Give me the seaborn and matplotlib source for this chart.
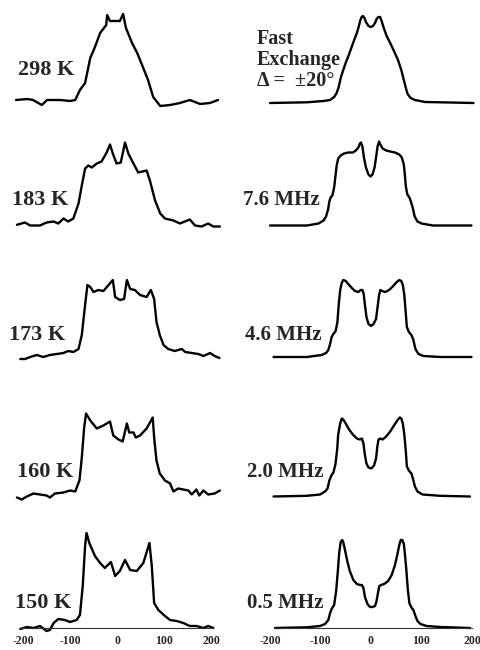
import matplotlib
matplotlib.use("Agg")
import matplotlib.pyplot as plt
import seaborn as sns

sns.set_style("white")
plt.rcParams['font.family'] = ['Liberation Serif', 'DejaVu Serif']

# ---- experimental spectra (left column), x in kHz, y = intensity ----
x_298 = [-215, -191, -179, -160, -149, -121, -100, -89, -79, -68, -57, -47, -36, -23, -21, -15, 6, 13, 19, 32,
         43, 55, 66, 77, 92, 113, 134, 155, 177, 198, 215]
y_298 = [3, 4, 3, -2, 3, 3, 2, 3, 13, 20, 45, 56, 70, 78, 88, 82, 82, 89, 75, 60,
         50, 36, 23, 6, -3, -2, 0, 3, -1, 0, 3]

x_183 = [-213, -196, -185, -164, -150, -135, -125, -114, -104, -93, -82, -75, -68, -61, -54, -43, -33, -22, -15, -9,
         -1, 8, 17, 24, 35, 45, 63, 70, 81, 92, 102, 120, 134, 155, 166, 180, 194, 205, 219]
y_183 = [0.7, 3, 0, 0, 3, 4, 2, 7, 4, 7, 22, 40, 57, 60, 58, 62, 64, 73, 81, 72,
         62, 63, 83, 72, 62, 53, 55, 45, 25, 12, 7, 5, 2, 6, 0, -1, 2, -1, -1]

x_173 = [-206, -196, -185, -171, -157, -143, -128, -114, -104, -93, -82, -75, -68, -63, -57, -50, -40, -29, -18, -9,
         -4, 6, 15, 21, 28, 38, 49, 63, 72, 79, 84, 91, 99, 109, 123, 138, 145, 159, 173, 184, 198, 208, 218]
y_173 = [-2, -2, 0, 2, 0, 2, 3, 4, 6, 5, 8, 22, 52, 72, 70, 65, 67, 66, 72, 77,
         60, 57, 58, 77, 68, 67, 62, 60, 67, 58, 35, 22, 12, 8, 6, 8, 5, 4, 3, 1, 4, 1, -1]

x_160 = [-213, -203, -192, -178, -164, -150, -143, -132, -114, -100, -89, -80, -75, -70, -66, -57, -43, -29, -15, -8,
         3, 12, 21, 26, 35, 40, 49, 63, 76, 79, 84, 91, 102, 113, 120, 130, 141, 152, 159, 169, 175, 184, 194, 208, 219]
y_160 = [-1, -3, 0, 3, 2, 1, -1, 3, 4, 6, 5, 16, 39, 69, 83, 76, 68, 71, 75, 61,
         57, 55, 73, 64, 64, 59, 61, 68, 79, 59, 36, 23, 16, 13, 5, 8, 7, 6, 2, 7, 1, 6, 2, 3, 6]

x_150 = [-206, -192, -178, -164, -150, -143, -135, -125, -111, -100, -86, -79, -73, -68, -65, -59, -47, -36, -26, -13,
         -4, 6, 17, 28, 42, 56, 69, 74, 79, 88, 102, 113, 127, 141, 155, 169, 184, 194, 205]
y_150 = [-1, 1, 0, 2, -3, -2, 5, 9, 8, 6, 8, 13, 42, 82, 95, 85, 72, 65, 60, 66,
         52, 57, 68, 58, 57, 65, 85, 62, 25, 18, 12, 8, 7, 5, 2, 2, 0, 2, 0]

# ---- simulated spectra (right column) ----
x_fast = [-200, -127, -94, -81, -73, -68, -64, -60, -55, -49.5, -44, -39, -34, -28, -24,
          -21, -18.5, -16, -13, -10, -5, -0.7, 4, 8, 11, 14.5, 18, 21, 26, 31,
          38, 45.5, 53.5, 60, 65, 69, 72.5, 78.5, 87, 107, 137, 203]
y_fast = [0, 0.7, 2, 3, 6, 10, 16, 25, 33, 41, 48, 55, 62, 70, 77,
          83, 86, 87, 85, 81, 77, 76, 77, 80, 84, 86, 86, 82, 74, 67,
          60, 52, 43, 33, 23, 15, 9, 5, 3, 1, 0.7, 0]

x_76 = [-200, -127, -104, -94, -89, -85, -82.5, -80, -76.5, -73, -70.5, -68, -65, -60, -53.5,
        -45, -36, -30, -25, -22, -20, -17, -14, -10, -5, -1, 3, 7, 10, 13,
        16, 18.5, 23, 30, 38, 47.5, 56, 61, 65, 67, 69, 72, 76, 79, 82.5,
        86.5, 92, 100, 123, 199]
y_76 = [0, 0, 2, 5, 9, 16, 24, 28, 30, 38, 49, 60, 67, 70, 72,
        73, 73, 75, 78, 82, 83, 79, 68, 58, 51, 49, 51, 58, 68, 79,
        84, 81, 77, 75, 74, 73, 71, 68, 61, 51, 39, 31, 28, 24, 18,
        9, 4, 2, 0, 0]

x_46 = [-193, -127, -98, -89, -84.5, -81, -78, -74.5, -70, -66.5, -64, -61, -58, -55, -50,
        -45, -38, -32, -25, -20.5, -17, -14.5, -12, -9, -5, 0, 5, 10, 13, 16,
        18.5, 22, 28, 36, 44, 51, 56, 60, 63, 66, 69, 71, 75, 80, 84,
        88, 94, 104, 137, 199]
y_46 = [0, 0, 2, 4, 7, 13, 20, 23, 26, 35, 52, 67, 74, 77, 76,
        73, 69, 66, 65, 67, 67, 63, 52, 40, 33, 31, 33, 38, 50, 62,
        67, 66, 65, 67, 71, 75, 77, 76, 72, 62, 43, 30, 25, 22, 17,
        8, 3, 1, 0, 0]

x_20 = [-193, -127, -101, -91, -86, -82.5, -78.5, -74.5, -70.5, -67, -65, -61, -58, -55, -50,
        -43.5, -36, -28, -22, -18, -15, -12.5, -9, -5, 0.7, 6, 10, 12.5, 15, 18.5,
        23, 30, 38, 45.5, 52, 57, 60, 63, 66, 69, 71, 75, 80, 83, 87,
        92, 102, 137, 196]
y_20 = [0, 0.7, 2, 5, 8, 16, 21, 24, 32, 47, 62, 73, 78, 77, 73,
        67, 62, 58, 57, 58, 53, 43, 33, 29, 28, 31, 38, 50, 57, 58,
        57, 60, 65, 71, 76, 79, 78, 73, 62, 45, 30, 26, 23, 18, 10,
        5, 2, 0.7, 0]

x_05 = [-190, -127, -101, -91, -84.5, -81, -78, -73, -69, -66, -63, -60, -57, -55, -51.5,
        -47, -42, -35, -28, -22, -18, -15, -12, -7, -2, 3, 8, 11, 14.5, 16.5,
        20, 26, 34, 41, 47.5, 52, 56, 59, 62, 65, 67, 70, 73, 76, 80.5,
        84, 88, 92, 98, 110, 137, 196]
y_05 = [0, 0.7, 2, 4, 8, 15, 19, 23, 37, 55, 75, 86, 88, 86, 78,
        67, 57, 48, 44, 43, 43, 40, 31, 24, 21, 21, 22, 27, 37, 42,
        43, 44, 47, 53, 63, 73, 83, 88, 88, 84, 75, 58, 38, 25, 20,
        18, 12, 7, 4, 2, 1, 0]

left_labels = ["298 K", "183 K", "173 K", "160 K", "150 K"]
right_labels = ["Fast\nExchange\nΔ =  ±20°", "7.6 MHz", "4.6 MHz", "2.0 MHz", "0.5 MHz"]
tick_values = [-200, -100, 0, 100, 200]
tick_labels = ["-200", "-100", "0", "100", "200"]

left_data = [(x_298, y_298), (x_183, y_183), (x_173, y_173), (x_160, y_160), (x_150, y_150)]
right_data = [(x_fast, y_fast), (x_76, y_76), (x_46, y_46), (x_20, y_20), (x_05, y_05)]

W, H = 480, 650
fig = plt.figure(figsize=(W / 100, H / 100), dpi=100)

baselines = [103, 225.5, 357, 496.5, 628]   # row baselines (px from top)
left_box = (13.7, 221.3)
right_box = (267.5, 474.5)

left_text_pos = [(18, 70), (12, 200), (9, 335), (17, 472), (15, 603)]
right_text_pos = [(257, 60), (243, 200), (245, 335), (247, 472), (247, 603)]

for r in range(5):
    b = baselines[r]
    bottom = 1 - (b + 10) / H
    height = 110 / H
    for col, (box, data, xl) in enumerate([(left_box, left_data[r], (-220, 222)),
                                            (right_box, right_data[r], (-205, 205))]):
        ax = fig.add_axes([box[0] / W, bottom, (box[1] - box[0]) / W, height])
        ax.patch.set_alpha(0)
        sns.lineplot(x=data[0], y=data[1], ax=ax, color='black', linewidth=1.7,
                     estimator=None, sort=False, legend=False,
                     solid_joinstyle='round', solid_capstyle='round')
        ax.set_xlim(*xl)
        ax.set_ylim(-10, 100)
        ax.set_yticks([])
        for s in ['top', 'right', 'left']:
            ax.spines[s].set_visible(False)
        if r == 4:
            ax.spines['bottom'].set_position(('data', 0))
            ax.spines['bottom'].set_linewidth(0.8)
            ax.spines['bottom'].set_color('#333333')
            if col == 0:
                ax.spines['bottom'].set_bounds(-205, 205)
            else:
                ax.spines['bottom'].set_bounds(-190, 200)
            ax.set_xticks(tick_values)
            ax.set_xticklabels(tick_labels, fontsize=8.5, fontweight='bold')
            ax.tick_params(axis='x', length=0, pad=5)
        else:
            ax.spines['bottom'].set_visible(False)
            ax.set_xticks([])
        ax.set_xlabel("")
        ax.set_ylabel("")

for (px, py), lab in zip(left_text_pos, left_labels):
    fig.text(px / W, 1 - py / H, lab, fontsize=16, fontweight='bold', ha='left', va='center')
for i, ((px, py), lab) in enumerate(zip(right_text_pos, right_labels)):
    fig.text(px / W, 1 - py / H, lab, fontsize=15 if i else 14.5, fontweight='bold',
             ha='left', va='center', linespacing=1.05)

fig.savefig("out.png", dpi=100)
